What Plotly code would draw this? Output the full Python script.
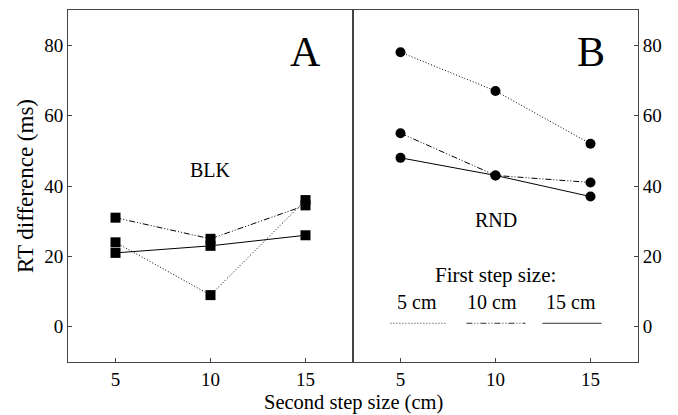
import plotly.graph_objects as go

second_step = [5, 10, 15]
series_names = ["5 cm", "10 cm", "15 cm"]
blk_5 = [24, 9, 36]
blk_10 = [31, 25, 34.5]
blk_15 = [21, 23, 26]
rnd_5 = [78, 67, 52]
rnd_10 = [55, 43, 41]
rnd_15 = [48, 43, 37]
x_ticks = [5, 10, 15]
y_ticks = [0, 20, 40, 60, 80]

FONT = '"Liberation Serif", "Times New Roman", Times, serif'
dashes = ["1px,2px", "6px,2px,1px,2px,1px,2px", "solid"]
AX = "#444"

fig = go.Figure()
for vals, d in zip([blk_5, blk_10, blk_15], dashes):
    fig.add_trace(go.Scatter(x=second_step, y=vals, mode="lines+markers",
                             line=dict(color="black", width=1, dash=d),
                             marker=dict(symbol="square", size=10, color="black"),
                             xaxis="x", yaxis="y", showlegend=False))
for vals, d in zip([rnd_5, rnd_10, rnd_15], dashes):
    fig.add_trace(go.Scatter(x=second_step, y=vals, mode="lines+markers",
                             line=dict(color="black", width=1, dash=d),
                             marker=dict(symbol="circle", size=10, color="black"),
                             xaxis="x2", yaxis="y2", showlegend=False))

axis_common = dict(showgrid=False, zeroline=False, showline=True, linecolor=AX,
                   linewidth=1, ticks="inside", ticklen=4, tickcolor=AX, automargin=False,
                   tickfont=dict(family=FONT, size=19, color="black"), mirror=True)

# page body has an 8px margin, so the figure is offset by 8px
fig.update_layout(
    width=670, height=407,
    margin=dict(l=60, r=40, t=2, b=53),
    paper_bgcolor="white", plot_bgcolor="white",
    font=dict(family=FONT, color="black"),
    xaxis=dict(domain=[0, 0.5], range=[2.5, 17.5], tickvals=x_ticks, anchor="y", **axis_common),
    xaxis2=dict(domain=[0.5, 1], range=[2.5, 17.5], tickvals=x_ticks, anchor="y2", **axis_common),
    yaxis=dict(range=[-10, 90], tickvals=y_ticks, anchor="x", **axis_common),
    yaxis2=dict(range=[-10, 90], tickvals=y_ticks, anchor="x2", side="right", **axis_common),
)

fig.add_annotation(text="RT difference (ms)", xref="paper", yref="paper", x=-0.0754, y=0.5,
                   textangle=-90, xanchor="center", yanchor="middle", showarrow=False,
                   font=dict(family=FONT, size=23))
fig.add_annotation(text="A", xref="x", yref="y", x=15, y=78, showarrow=False,
                   font=dict(family=FONT, size=42))
fig.add_annotation(text="B", xref="x2", yref="y2", x=15, y=78, showarrow=False,
                   font=dict(family=FONT, size=42))
fig.add_annotation(text="BLK", xref="x", yref="y", x=10, y=44.5, showarrow=False,
                   font=dict(family=FONT, size=20))
fig.add_annotation(text="RND", xref="x2", yref="y2", x=10, y=30.4, showarrow=False,
                   font=dict(family=FONT, size=20))
fig.add_annotation(text="First step size:", xref="x2", yref="y2", x=10, y=14.8, showarrow=False,
                   font=dict(family=FONT, size=21))
fig.add_annotation(text="Second step size (cm)", xref="paper", yref="paper", x=0.5, y=-0.1506,
                   yanchor="bottom", showarrow=False, borderpad=0,
                   font=dict(family=FONT, size=20.5))

leg_x = [(4.47, 7.47), (8.47, 11.58), (12.47, 15.58)]
leg_label_x = [5.89, 9.84, 13.95]
for name, (x0, x1), lx, d in zip(series_names, leg_x, leg_label_x, dashes):
    fig.add_annotation(text=name, xref="x2", yref="y2", x=lx, y=7, showarrow=False,
                       font=dict(family=FONT, size=20))
    fig.add_shape(type="line", xref="x2", yref="y2", x0=x0, x1=x1, y0=1, y1=1,
                  line=dict(color="#333", width=1, dash=d))

fig.write_html("out.html")
